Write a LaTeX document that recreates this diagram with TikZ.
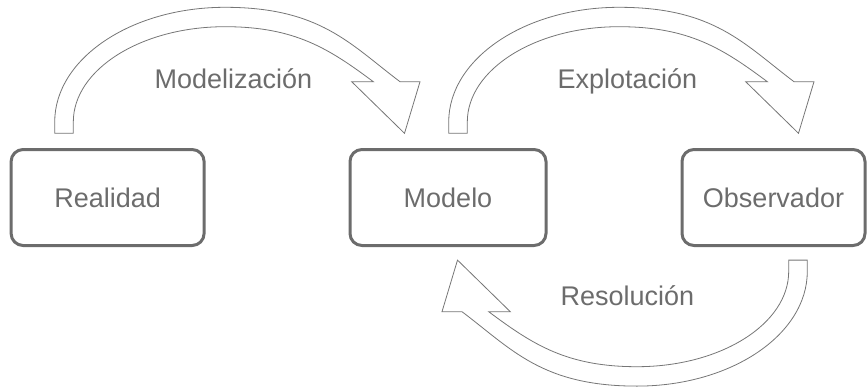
\documentclass[tikz,border=0pt]{standalone}
\usepackage{fontspec}
\setmainfont{Liberation Sans}
\definecolor{txtgray}{RGB}{108,108,108}
\definecolor{boxgray}{RGB}{108,108,108}
\definecolor{arrgray}{RGB}{118,118,118}
\newcommand\blockarrowpath{%
  (54.7,133.3) -- (54.7,122)
  .. controls (54.7,58.7) and (131,7.3) .. (225,7.3)
  .. controls (320,7.3) and (350,44) .. (400,81.7)
  -- (420,81.7) -- (404.5,133.3) -- (351.7,81.7) -- (373.3,81.7)
  .. controls (329,48.7) and (295,26.7) .. (225,26.7)
  .. controls (141.3,26.7) and (73.3,69.4) .. (73.3,122)
  -- (73.3,133.3) -- cycle}
\begin{document}
\begin{tikzpicture}[x=1pt,y=-1pt,
  box/.style={draw=boxgray, line width=3pt, rounded corners=12pt, minimum height=96pt,
    inner sep=0pt, font=\fontsize{27}{32}\selectfont, text=txtgray},
  lbl/.style={anchor=base, inner sep=0pt, font=\fontsize{27}{32}\selectfont, text=txtgray},
  barrow/.style={draw=arrgray, fill=white, line width=0.8pt, line join=miter}]
\useasboundingbox (0,0) rectangle (868,386);
% block arrows
\draw[barrow] \blockarrowpath;
\begin{scope}[xshift=394pt]
  \draw[barrow] \blockarrowpath;
\end{scope}
\begin{scope}[rotate around={180:(431,196.7)}]
  \draw[barrow] \blockarrowpath;
\end{scope}
% boxes
\node[box, minimum width=193pt] (realidad) at (107.6,197.5) {Realidad};
\node[box, minimum width=196pt] (modelo) at (448,197.5) {Modelo};
\node[box, minimum width=183pt] (observador) at (773.5,197.5) {Observador};
% labels
\node[lbl] (modelizacion) at (233.3,88.3) {Modelización};
\node[lbl] (explotacion) at (627.3,88.3) {Explotación};
\node[lbl] (resolucion) at (627.3,305) {Resolución};
\end{tikzpicture}
\end{document}
